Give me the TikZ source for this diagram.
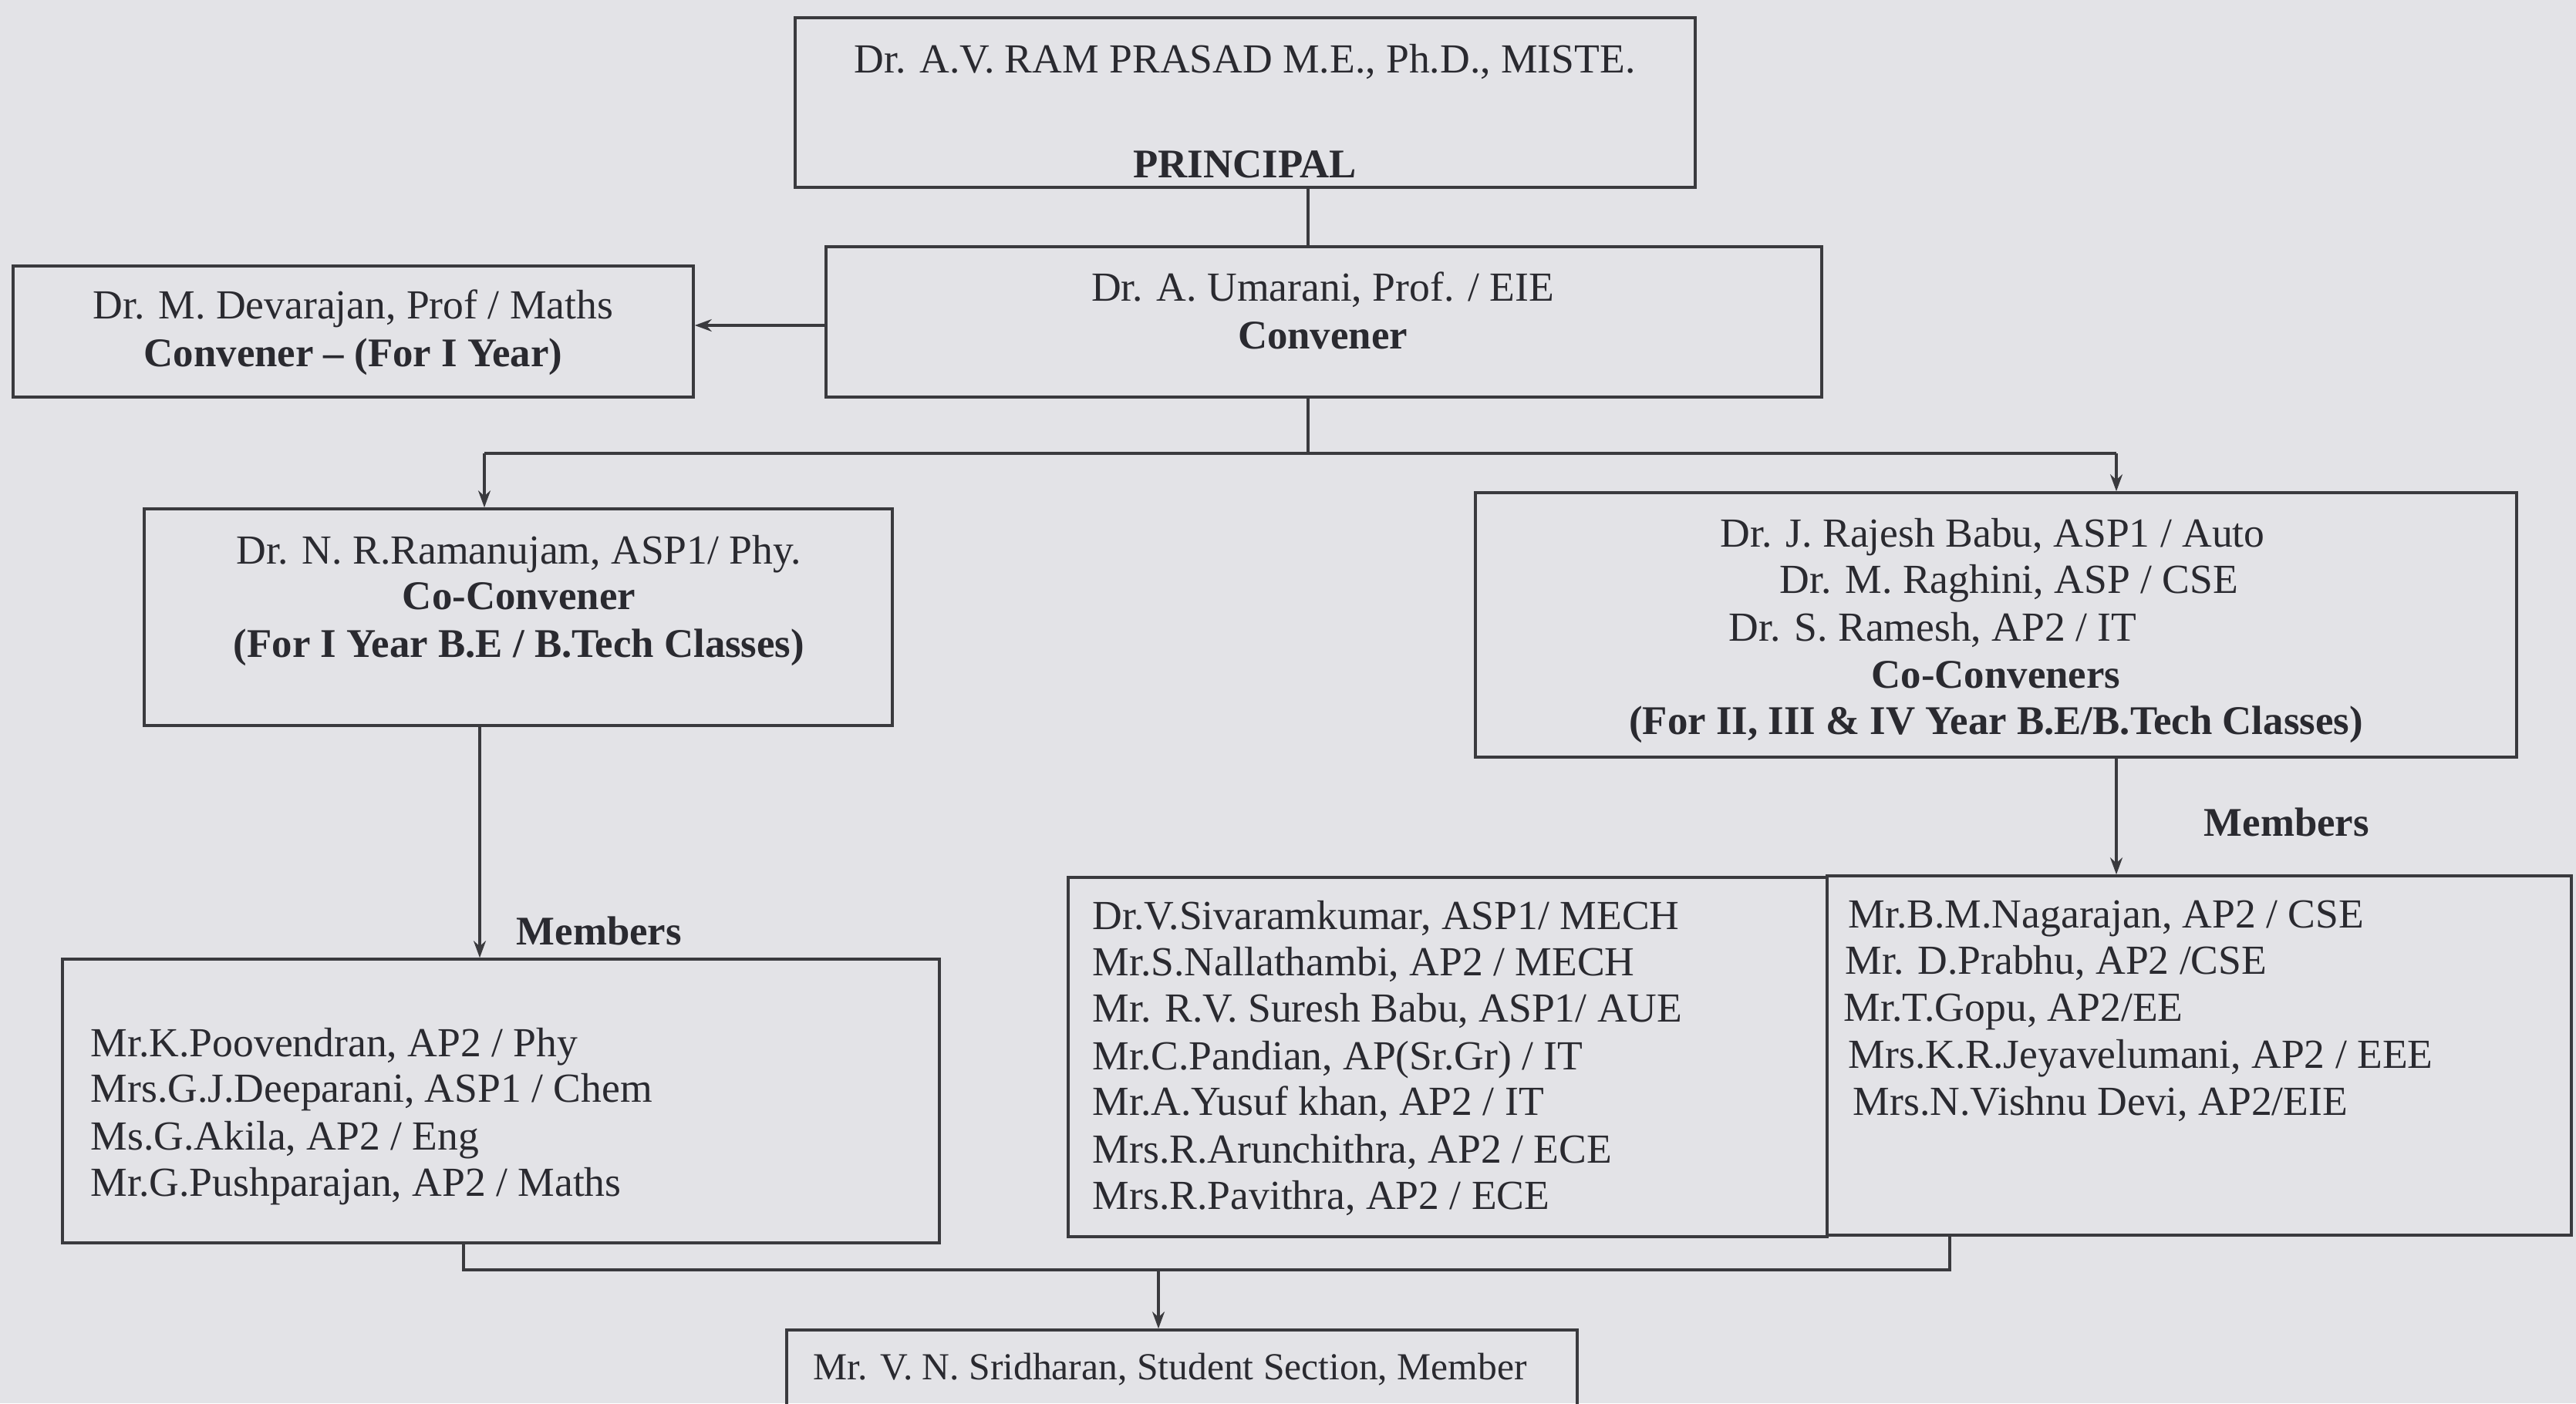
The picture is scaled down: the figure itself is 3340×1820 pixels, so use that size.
\documentclass[tikz,border=0pt]{standalone}
\usepackage{fontspec}
\setmainfont{Liberation Serif}
\usetikzlibrary{fit,arrows.meta}
\definecolor{paper}{RGB}{227,227,231}
\definecolor{linec}{RGB}{58,58,62}
\definecolor{textc}{RGB}{42,42,48}
\tikzset{
  box/.style={draw=linec, line width=0.9pt, rectangle, inner sep=0pt},
  txt/.style={font=\fontsize{13.4pt}{15pt}\selectfont, text=textc, inner sep=0pt},
  bld/.style={txt, font=\fontsize{13.2pt}{15pt}\selectfont\bfseries},
  conn/.style={draw=linec, line width=0.8pt},
  arr/.style={conn, -{Stealth[length=5.5pt,width=4pt]}}
}
\begin{document}
\begin{tikzpicture}[x=0.25pt,y=-0.25pt]
\useasboundingbox (0,0) rectangle (3340,1820);
\fill[paper] (0,0) rectangle (3340,1820);
\begin{scope}
\clip (0,0) rectangle (3340,1820);
% boxes
\node[box, fit={(1031,23) (2198,243)}] (principal) {};
\node[box, fit={(1071,320) (2362,515)}] (umarani) {};
\node[box, fit={(17,345) (899,515)}] (devarajan) {};
\node[box, fit={(187,660) (1157,941)}] (ramanujam) {};
\node[box, fit={(1913,639) (3263,982)}] (rajesh) {};
\node[box, fit={(81,1244) (1218,1612)}] (memL) {};
\node[box, fit={(1385,1138) (2369,1604)}] (memM) {};
\node[box, fit={(2369,1136) (3334,1602)}] (memR) {};
\node[box, fit={(1020,1725) (2045,1860)}] (sridharan) {};
\end{scope}
% texts
\node[txt, anchor=mid] (p1) at (1614,85) {Dr. A.V. RAM PRASAD M.E., Ph.D., MISTE.};
\node[bld, anchor=mid] (p2) at (1614,221) {PRINCIPAL};
\node[txt, anchor=mid] (u1) at (1715,381) {Dr. A. Umarani, Prof. / EIE};
\node[bld, anchor=mid] (u2) at (1715,443) {Convener};
\node[txt, anchor=mid] (d1) at (458,404) {Dr. M. Devarajan, Prof / Maths};
\node[bld, anchor=mid] (d2) at (458,466) {Convener -- (For I Year)};
\node[txt, anchor=mid] (r1) at (673,722) {Dr. N. R.Ramanujam, ASP1/ Phy.};
\node[bld, anchor=mid] (r2) at (673,781) {Co-Convener};
\node[bld, anchor=mid] (r3) at (673,843) {(For I Year B.E / B.Tech Classes)};
\node[txt, anchor=mid west] (j1) at (2230,700) {Dr. J. Rajesh Babu, ASP1 / Auto};
\node[txt, anchor=mid west] (j2) at (2307,760) {Dr. M. Raghini, ASP / CSE};
\node[txt, anchor=mid west] (j3) at (2241,822) {Dr. S. Ramesh, AP2 / IT};
\node[bld, anchor=mid] (j4) at (2588,883) {Co-Conveners};
\node[bld, anchor=mid] (j5) at (2588,943) {(For II, III \& IV Year B.E/B.Tech Classes)};
\node[bld, anchor=mid west] (mlab1) at (669,1216) {Members};
\node[bld, anchor=mid west] (mlab2) at (2857,1075) {Members};
\node[txt, anchor=mid west] (l1) at (117,1361) {Mr.K.Poovendran, AP2 / Phy};
\node[txt, anchor=mid west] (l2) at (117,1420) {Mrs.G.J.Deeparani, ASP1 / Chem};
\node[txt, anchor=mid west] (l3) at (117,1482) {Ms.G.Akila, AP2 / Eng};
\node[txt, anchor=mid west] (l4) at (117,1542) {Mr.G.Pushparajan, AP2 / Maths};
\node[txt, anchor=mid west] (m1) at (1416,1196) {Dr.V.Sivaramkumar, ASP1/ MECH};
\node[txt, anchor=mid west] (m2) at (1416,1256) {Mr.S.Nallathambi, AP2 / MECH};
\node[txt, anchor=mid west] (m3) at (1416,1316) {Mr. R.V. Suresh Babu, ASP1/ AUE};
\node[txt, anchor=mid west] (m4) at (1416,1378) {Mr.C.Pandian, AP(Sr.Gr) / IT};
\node[txt, anchor=mid west] (m5) at (1416,1437) {Mr.A.Yusuf khan, AP2 / IT};
\node[txt, anchor=mid west] (m6) at (1416,1499) {Mrs.R.Arunchithra, AP2 / ECE};
\node[txt, anchor=mid west] (m7) at (1416,1559) {Mrs.R.Pavithra, AP2 / ECE};
\node[txt, anchor=mid west] (n1) at (2396,1194) {Mr.B.M.Nagarajan, AP2 / CSE};
\node[txt, anchor=mid west] (n2) at (2392,1254) {Mr. D.Prabhu, AP2 /CSE};
\node[txt, anchor=mid west] (n3) at (2390,1315) {Mr.T.Gopu, AP2/EE};
\node[txt, anchor=mid west] (n4) at (2396,1376) {Mrs.K.R.Jeyavelumani, AP2 / EEE};
\node[txt, anchor=mid west] (n5) at (2402,1437) {Mrs.N.Vishnu Devi, AP2/EIE};
\node[txt, anchor=mid west, font=\fontsize{12.4pt}{15pt}\selectfont] (s1) at (1054,1780) {Mr. V. N. Sridharan, Student Section, Member};
% connector points
\coordinate (busL) at (628,588);
\coordinate (busR) at (2744,588);
\coordinate (busM) at (1696,588);
\coordinate (lowL) at (601,1647);
\coordinate (lowR) at (2528,1647);
\coordinate (lowA) at (1502,1647);
% connectors
\draw[conn] (principal.south -| busM) -- (umarani.north -| busM);
\draw[arr] (umarani.west |- 0,422) -- (devarajan.east |- 0,422);
\draw[conn] (umarani.south -| busM) -- (busM);
\draw[conn] (busL) -- (busR);
\draw[arr] (busL) -- (ramanujam.north -| busL);
\draw[arr] (busR) -- (rajesh.north -| busR);
\draw[arr] (ramanujam.south -| 622,0) -- (memL.north -| 622,0);
\draw[arr] (rajesh.south -| busR) -- (memR.north -| busR);
\draw[conn] (memL.south -| lowL) -- (lowL) -- (lowR) -- (memR.south -| lowR);
\draw[arr] (lowA) -- (sridharan.north -| lowA);
\end{tikzpicture}
\end{document}
